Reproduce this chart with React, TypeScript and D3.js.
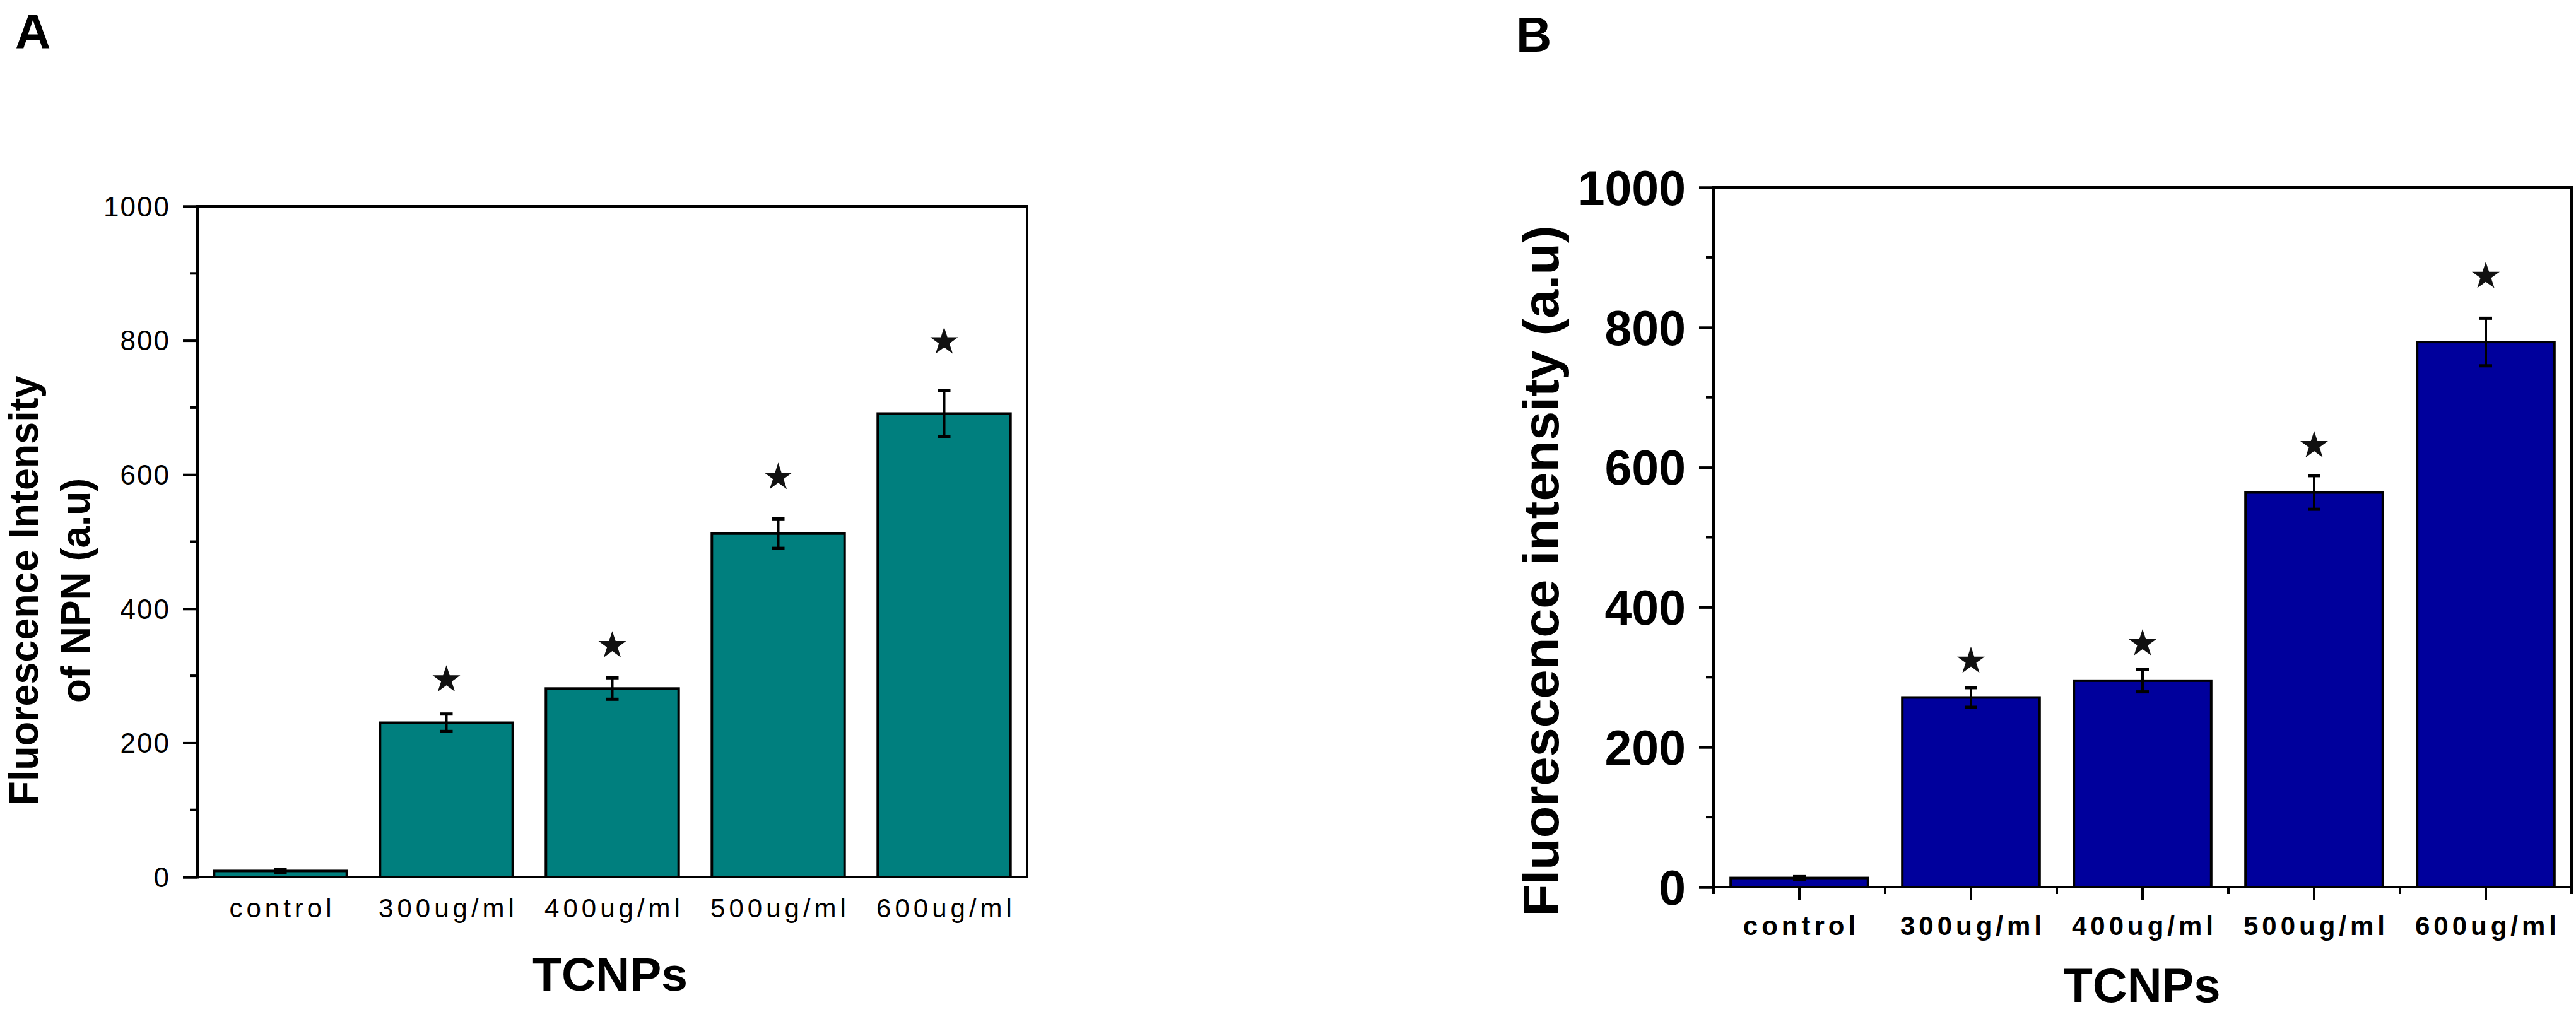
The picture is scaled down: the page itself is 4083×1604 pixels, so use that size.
import React, { useRef, useEffect } from 'react';
import * as d3 from 'd3';

// categories shared by both panels
const categories = ['control', '300ug/ml', '400ug/ml', '500ug/ml', '600ug/ml'];
const yTicks = [0, 200, 400, 600, 800, 1000];
const yMinorTicks = [100, 300, 500, 700, 900];

// panel A: NPN uptake
const npnValues = [9, 230, 281, 512, 691];
const npnErrors = [2, 13, 16, 22, 34];
const npnStars: (number | null)[] = [null, 294, 345, 596, 798];

// panel B: fluorescence intensity
const fluorValues = [13, 271, 295, 564, 779];
const fluorErrors = [2, 14, 16, 24, 34];
const fluorStars: (number | null)[] = [null, 323, 348, 631, 873];

const FONT = '"Liberation Sans", Arial, sans-serif';

interface PanelOpts {
  letter: string;
  letterX: number;
  letterY: number;
  left: number;
  right: number;
  top: number;
  bottom: number;
  fill: string;
  values: number[];
  errors: number[];
  stars: (number | null)[];
  tickFont: number;
  tickWeight: string;
  tickSpacing: number;
  tickLabelX: number;
  catFont: number;
  catWeight: string;
  catY: number;
  xTicks: boolean;
  xTitleX: number;
  xTitleY: number;
  xTitleFont: number;
  titleLines: { text: string; x: number; len: number }[];
  titleY: number;
  titleFont: number;
}

function drawPanel(svg: d3.Selection<SVGSVGElement, unknown, null, undefined>, o: PanelOpts) {
  const g = svg.append('g');

  const x = d3.scaleBand<string>()
    .domain(categories)
    .range([o.left, o.right])
    .paddingInner(0.2)
    .paddingOuter(0.1);

  const y = d3.scaleLinear()
    .domain([0, 1000])
    .range([o.bottom, o.top]);

  const cx = (i: number) => x(categories[i])! + x.bandwidth() / 2;

  // bars
  g.selectAll('.bar')
    .data(o.values)
    .enter()
    .append('rect')
    .attr('x', (_, i) => x(categories[i])!)
    .attr('width', x.bandwidth())
    .attr('y', d => y(d))
    .attr('height', d => y(0) - y(d))
    .attr('fill', o.fill)
    .attr('stroke', '#000')
    .attr('stroke-width', 4);

  // error bars
  const err = g.selectAll('.err')
    .data(o.values)
    .enter()
    .append('g');
  err.append('line')
    .attr('x1', (_, i) => cx(i))
    .attr('x2', (_, i) => cx(i))
    .attr('y1', (d, i) => y(d + o.errors[i]))
    .attr('y2', (d, i) => y(d - o.errors[i]))
    .attr('stroke', '#000')
    .attr('stroke-width', 4);
  [1, -1].forEach(sign => {
    err.append('line')
      .attr('x1', (_, i) => cx(i) - 10)
      .attr('x2', (_, i) => cx(i) + 10)
      .attr('y1', (d, i) => y(d + sign * o.errors[i]))
      .attr('y2', (d, i) => y(d + sign * o.errors[i]))
      .attr('stroke', '#000')
      .attr('stroke-width', 5);
  });

  // significance stars
  const star = d3.symbol().type(d3.symbolStar).size(600);
  o.stars.forEach((s, i) => {
    if (s === null) return;
    g.append('path')
      .attr('d', star)
      .attr('transform', `translate(${cx(i)},${y(s)})`)
      .attr('fill', '#111');
  });

  // frame
  g.append('rect')
    .attr('x', o.left)
    .attr('y', o.top)
    .attr('width', o.right - o.left)
    .attr('height', o.bottom - o.top)
    .attr('fill', 'none')
    .attr('stroke', '#000')
    .attr('stroke-width', 4);

  // y axis
  const yAxis = d3.axisLeft(y)
    .tickValues(yTicks)
    .tickSize(23)
    .tickFormat(() => '');
  const ya = g.append('g')
    .attr('transform', `translate(${o.left},0)`)
    .call(yAxis);
  ya.select('.domain').attr('stroke-width', 4);
  ya.selectAll('.tick line').attr('stroke-width', 4);

  g.selectAll('.minor-y')
    .data(yMinorTicks)
    .enter()
    .append('line')
    .attr('x1', o.left - 12)
    .attr('x2', o.left)
    .attr('y1', d => y(d))
    .attr('y2', d => y(d))
    .attr('stroke', '#000')
    .attr('stroke-width', 4);

  g.selectAll('.ytick-label')
    .data(yTicks)
    .enter()
    .append('text')
    .attr('x', o.tickLabelX)
    .attr('y', d => y(d))
    .attr('dy', '0.36em')
    .attr('text-anchor', 'end')
    .style('font-family', FONT)
    .style('font-size', `${o.tickFont}px`)
    .style('font-weight', o.tickWeight)
    .style('letter-spacing', `${o.tickSpacing}px`)
    .text(d => d);

  // x ticks (panel B only)
  if (o.xTicks) {
    g.selectAll('.xtick-major')
      .data(categories)
      .enter()
      .append('line')
      .attr('x1', d => x(d)! + x.bandwidth() / 2)
      .attr('x2', d => x(d)! + x.bandwidth() / 2)
      .attr('y1', o.bottom)
      .attr('y2', o.bottom + 20)
      .attr('stroke', '#000')
      .attr('stroke-width', 4);
    const step = x.step();
    const bounds = d3.range(categories.length + 1).map(i => o.left + i * step);
    g.selectAll('.xtick-minor')
      .data(bounds)
      .enter()
      .append('line')
      .attr('x1', d => d)
      .attr('x2', d => d)
      .attr('y1', o.bottom)
      .attr('y2', o.bottom + 11)
      .attr('stroke', '#000')
      .attr('stroke-width', 4);
  }

  // category labels
  g.selectAll('.cat')
    .data(categories)
    .enter()
    .append('text')
    .attr('x', d => x(d)! + x.bandwidth() / 2 + 3)
    .attr('y', o.catY)
    .attr('text-anchor', 'middle')
    .style('font-family', FONT)
    .style('font-size', `${o.catFont}px`)
    .style('font-weight', o.catWeight)
    .style('letter-spacing', '6px')
    .text(d => d);

  // axis titles
  g.append('text')
    .attr('x', o.xTitleX)
    .attr('y', o.xTitleY)
    .attr('text-anchor', 'middle')
    .style('font-family', FONT)
    .style('font-size', `${o.xTitleFont}px`)
    .style('font-weight', 'bold')
    .text('TCNPs');

  o.titleLines.forEach(line => {
    g.append('text')
      .attr('transform', `translate(${line.x},${o.titleY}) rotate(-90)`)
      .attr('text-anchor', 'middle')
      .attr('textLength', line.len)
      .attr('lengthAdjust', 'spacingAndGlyphs')
      .style('font-family', FONT)
      .style('font-size', `${o.titleFont}px`)
      .style('font-weight', 'bold')
      .text(line.text);
  });

  // panel letter
  g.append('text')
    .attr('x', o.letterX)
    .attr('y', o.letterY)
    .style('font-family', FONT)
    .style('font-size', '78px')
    .style('font-weight', 'bold')
    .text(o.letter);
}

const App: React.FC = () => {
  const svgRef = useRef<SVGSVGElement>(null);

  useEffect(() => {
    if (!svgRef.current) return;
    const svg = d3.select(svgRef.current);
    svg.selectAll('*').remove();

    svg.append('rect')
      .attr('width', 4083)
      .attr('height', 1604)
      .attr('fill', '#fff');

    drawPanel(svg, {
      letter: 'A', letterX: 24, letterY: 77,
      left: 313, right: 1628, top: 327, bottom: 1390,
      fill: '#007f7e',
      values: npnValues, errors: npnErrors, stars: npnStars,
      tickFont: 44, tickWeight: 'normal', tickSpacing: 2, tickLabelX: 270,
      catFont: 42, catWeight: 'normal', catY: 1454,
      xTicks: false,
      xTitleX: 967, xTitleY: 1570, xTitleFont: 75,
      titleLines: [
        { text: 'Fluorescence Intensity', x: 60, len: 681 },
        { text: 'of NPN (a.u)', x: 142, len: 356 },
      ],
      titleY: 936, titleFont: 64,
    });

    drawPanel(svg, {
      letter: 'B', letterX: 2403, letterY: 82,
      left: 2716, right: 4076, top: 297, bottom: 1406,
      fill: '#00009c',
      values: fluorValues, errors: fluorErrors, stars: fluorStars,
      tickFont: 77, tickWeight: 'bold', tickSpacing: 0, tickLabelX: 2672,
      catFont: 42, catWeight: 'bold', catY: 1482,
      xTicks: true,
      xTitleX: 3395, xTitleY: 1588, xTitleFont: 76,
      titleLines: [
        { text: 'Fluorescence intensity (a.u)', x: 2470, len: 1095 },
      ],
      titleY: 905, titleFont: 80,
    });
  }, []);

  return (
    <div style={{ position: 'absolute', left: 0, top: 0 }}>
      <svg ref={svgRef} width={4083} height={1604} style={{ display: 'block' }} />
    </div>
  );
};

export default App;
